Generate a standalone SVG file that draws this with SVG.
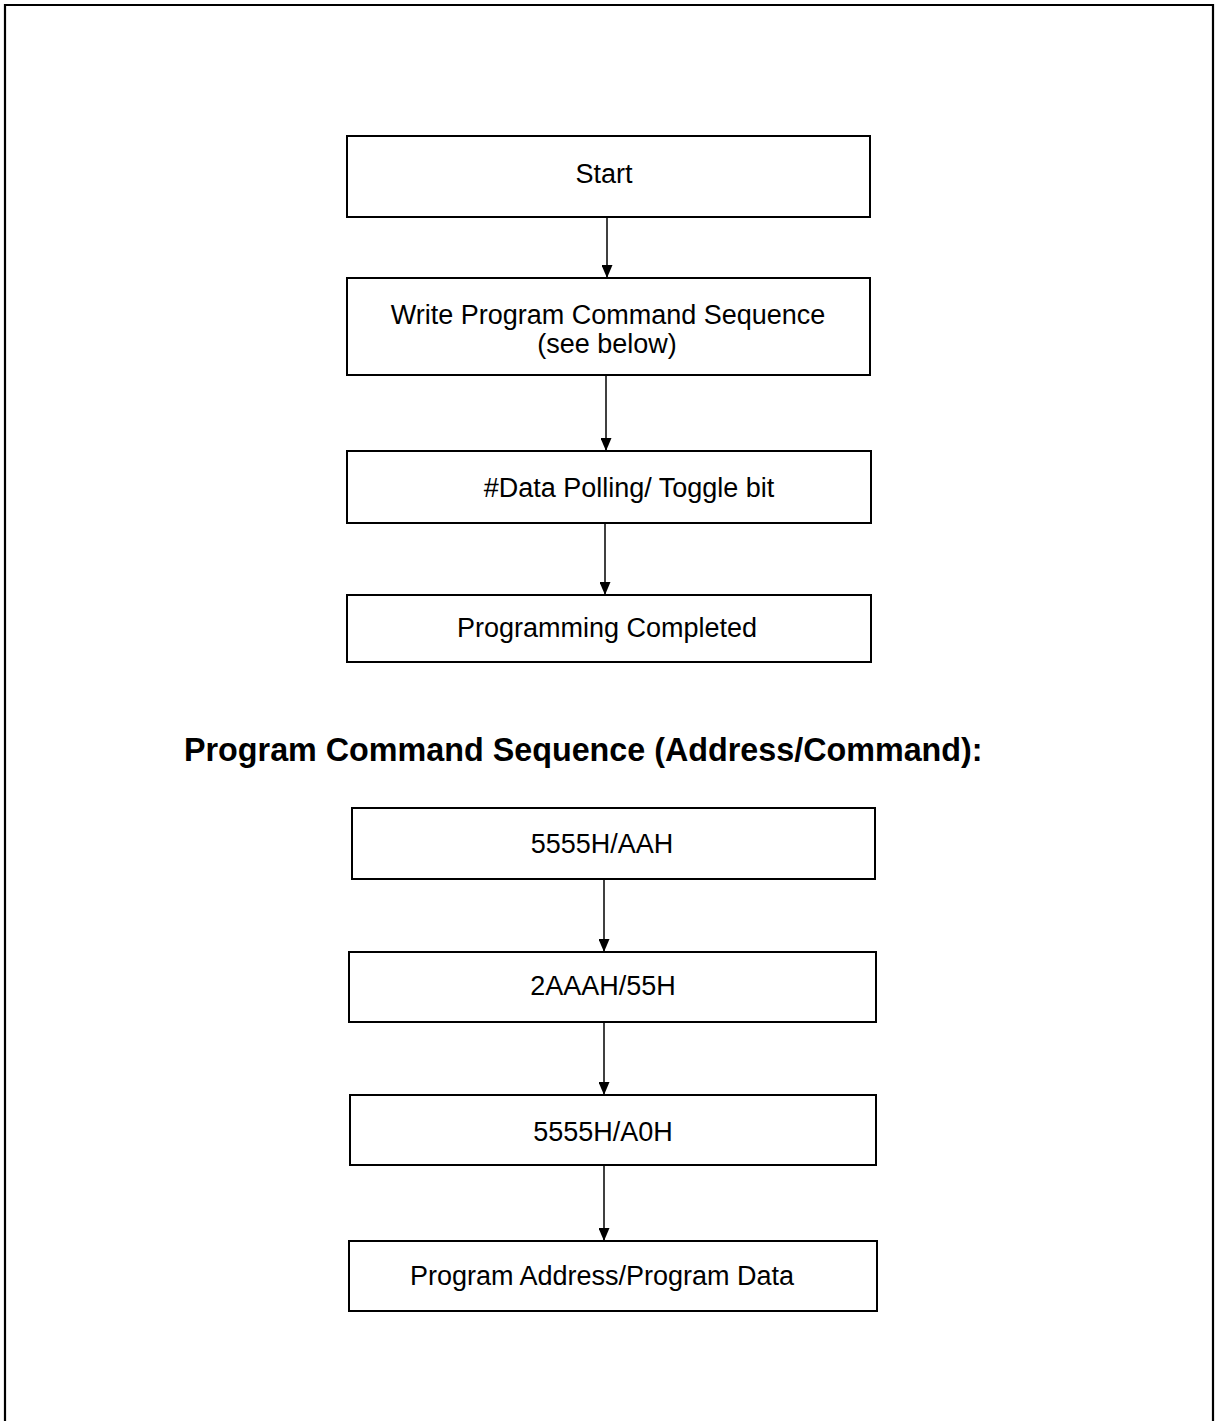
<svg xmlns="http://www.w3.org/2000/svg" width="1215" height="1421" viewBox="0 0 1215 1421">
<style>
.box{fill:#fff;stroke:#000;stroke-width:2}
.t{font-family:"Liberation Sans",Arial,sans-serif;font-size:27px;fill:#000;text-anchor:middle}
.title{font-family:"Liberation Sans",Arial,sans-serif;font-size:32.3px;font-weight:bold;fill:#000}
.conn{stroke:#000;stroke-width:1.5;fill:none}
</style>
<defs>
<marker id="arr" markerUnits="userSpaceOnUse" markerWidth="14" markerHeight="11" refX="13" refY="5.5" orient="auto" viewBox="0 0 14 11">
<path d="M0,0 L13,5.5 L0,11 Z" fill="#000"/>
</marker>
</defs>
<rect width="1215" height="1421" fill="#fff"/>
<path d="M5,1421 V5 H1213 V1421" fill="none" stroke="#000" stroke-width="2.2"/>
<g id="connectors">
<line class="conn" x1="607" y1="217" x2="607" y2="278" marker-end="url(#arr)"/>
<line class="conn" x1="606" y1="375" x2="606" y2="451" marker-end="url(#arr)"/>
<line class="conn" x1="605" y1="523" x2="605" y2="595" marker-end="url(#arr)"/>
<line class="conn" x1="604" y1="879" x2="604" y2="952" marker-end="url(#arr)"/>
<line class="conn" x1="604" y1="1022" x2="604" y2="1095" marker-end="url(#arr)"/>
<line class="conn" x1="604" y1="1165" x2="604" y2="1241" marker-end="url(#arr)"/>
</g>
<g id="start">
<rect class="box" x="347" y="136" width="523" height="81"/>
<text class="t" x="604" y="183">Start</text>
</g>
<g id="write">
<rect class="box" x="347" y="278" width="523" height="97"/>
<text class="t" x="608" y="324">Write Program Command Sequence</text>
<text class="t" x="607" y="353">(see below)</text>
</g>
<g id="polling">
<rect class="box" x="347" y="451" width="524" height="72"/>
<text class="t" x="629" y="497">#Data Polling/ Toggle bit</text>
</g>
<g id="completed">
<rect class="box" x="347" y="595" width="524" height="67"/>
<text class="t" x="607" y="637">Programming Completed</text>
</g>
<g id="title">
<text class="title" x="184" y="761">Program Command Sequence (Address/Command):</text>
</g>
<g id="seq1">
<rect class="box" x="352" y="808" width="523" height="71"/>
<text class="t" x="602" y="853">5555H/AAH</text>
</g>
<g id="seq2">
<rect class="box" x="349" y="952" width="527" height="70"/>
<text class="t" x="603" y="995">2AAAH/55H</text>
</g>
<g id="seq3">
<rect class="box" x="350" y="1095" width="526" height="70"/>
<text class="t" x="603" y="1141">5555H/A0H</text>
</g>
<g id="seq4">
<rect class="box" x="349" y="1241" width="528" height="70"/>
<text class="t" x="602" y="1285">Program Address/Program Data</text>
</g>
</svg>
